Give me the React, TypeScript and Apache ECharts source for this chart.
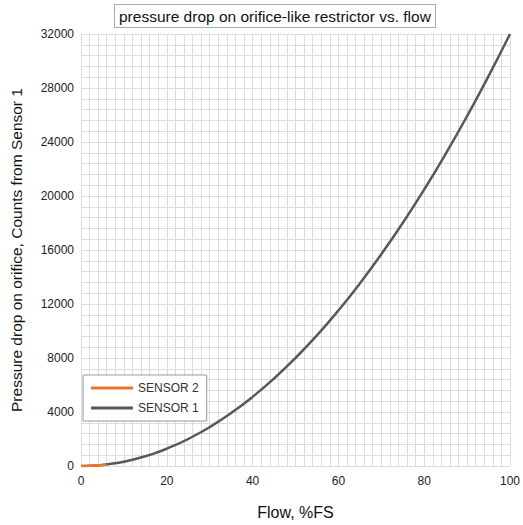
import React, { useEffect, useRef } from "react";
import * as echarts from "echarts";

const flowS1 = [0, 2.5, 5, 7.5, 10, 12.5, 15, 17.5, 20, 25, 30, 35, 40, 45, 50, 55, 60, 65, 70, 75, 80, 85, 90, 95, 100];
const countsS1 = [0, 20, 80, 180, 320, 500, 720, 980, 1280, 2000, 2880, 3920, 5120, 6480, 8000, 9680, 11520, 13520, 15680, 18000, 20480, 23120, 25920, 28880, 32000];
const flowS2 = [0, 1, 2, 3, 4, 5, 6];
const countsS2 = [0, 4, 13, 29, 51, 80, 115];
const xTicks = [0, 20, 40, 60, 80, 100];
const yTicks = [0, 4000, 8000, 12000, 16000, 20000, 24000, 28000, 32000];

export default function App() {
  const ref = useRef<HTMLDivElement>(null);
  useEffect(() => {
    const chart = echarts.init(ref.current!, undefined, { renderer: "svg" });
    const font = "Liberation Sans, Arial, sans-serif";
    const gridColor = "#dcdcdc";
    chart.setOption({
      animation: false,
      textStyle: { fontFamily: font },
      title: {
        text: "pressure drop on orifice-like restrictor vs. flow",
        left: 114,
        top: 4,
        padding: [4, 5],
        borderColor: "#aaa",
        borderWidth: 1,
        textStyle: { fontSize: 15.5, fontWeight: "normal", color: "#111", fontFamily: font },
      },
      legend: {
        orient: "vertical",
        left: 83,
        top: 375,
        itemWidth: 42,
        itemHeight: 3,
        itemGap: 8,
        padding: [7, 8],
        borderColor: "#999",
        borderWidth: 1,
        backgroundColor: "#fff",
        icon: "rect",
        textStyle: { fontSize: 12, color: "#333", fontFamily: font },
        data: ["SENSOR 2", "SENSOR 1"],
      },
      grid: { left: 80, right: 9, top: 34, bottom: 58, containLabel: false },
      xAxis: {
        type: "value",
        min: 0,
        max: 100,
        interval: 20,
        name: "Flow, %FS",
        nameLocation: "middle",
        nameGap: 38,
        nameTextStyle: { fontSize: 16, color: "#111", fontFamily: font },
        axisLine: { show: false },
        axisTick: { show: false },
        axisLabel: { fontSize: 12, color: "#222", margin: 9, formatter: (v: number) => (xTicks.includes(v) ? String(v) : "") },
        splitLine: { show: true, lineStyle: { color: gridColor, width: 1 } },
        minorTick: { show: false, splitNumber: 10 },
        minorSplitLine: { show: true, lineStyle: { color: gridColor, width: 1 } },
      },
      yAxis: {
        type: "value",
        min: 0,
        max: 32000,
        interval: 4000,
        name: "Pressure drop on orifice, Counts from Sensor 1",
        nameLocation: "middle",
        nameGap: 57,
        nameTextStyle: { fontSize: 15.5, color: "#111", fontFamily: font },
        axisLine: { show: false },
        axisTick: { show: false },
        axisLabel: { fontSize: 12, color: "#222", margin: 7, formatter: (v: number) => (yTicks.includes(v) ? String(v) : "") },
        splitLine: { show: true, lineStyle: { color: gridColor, width: 1 } },
        minorTick: { show: false, splitNumber: 5 },
        minorSplitLine: { show: true, lineStyle: { color: gridColor, width: 1 } },
      },
      series: [
        {
          name: "SENSOR 1",
          type: "line",
          smooth: true,
          showSymbol: false,
          data: flowS1.map((x, i) => [x, countsS1[i]]),
          lineStyle: { color: "#55585c", width: 2.5 },
          itemStyle: { color: "#55585c" },
          z: 2,
        },
        {
          name: "SENSOR 2",
          type: "line",
          smooth: true,
          showSymbol: false,
          data: flowS2.map((x, i) => [x, countsS2[i]]),
          lineStyle: { color: "#ec7424", width: 2.5 },
          itemStyle: { color: "#ec7424" },
          z: 3,
        },
      ],
    });
    return () => chart.dispose();
  }, []);
  return <div ref={ref} style={{ width: 523, height: 525, position: "absolute", left: 0, top: 0 }} />;
}
